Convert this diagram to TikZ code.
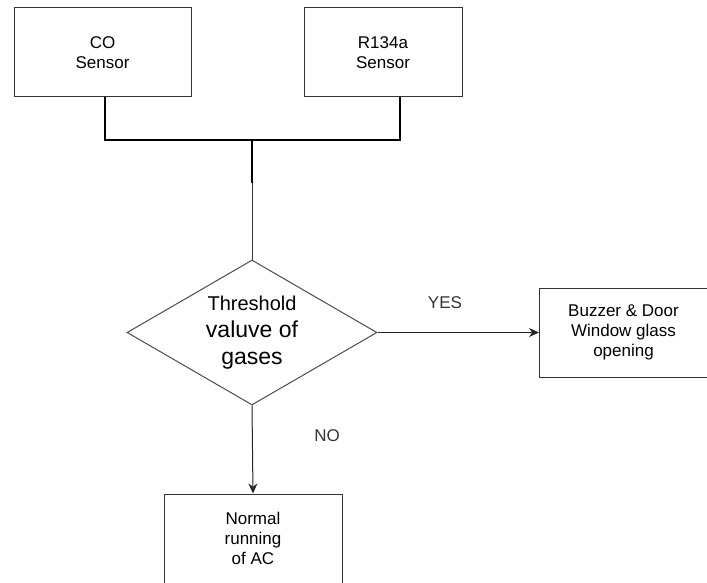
\documentclass[tikz,border=0pt]{standalone}
\usepackage{fontspec}
\setmainfont{Liberation Sans}
\usetikzlibrary{shapes.geometric,arrows.meta}
\tikzset{
    sensorbox/.style={draw=black!80,line width=1pt,minimum width=177pt,minimum height=89pt,align=center,font=\fontsize{17}{20}\selectfont},
    smallbox/.style={draw=black!80,line width=1pt,minimum width=168pt,minimum height=89pt,align=center,font=\fontsize{17}{20}\selectfont},
    decision/.style={draw=black!70,line width=1pt,diamond,minimum width=250pt,minimum height=145pt,inner sep=-25pt,align=center,font=\fontsize{23}{27}\selectfont},
    label/.style={font=\fontsize{17}{20}\selectfont,text=black!80},
    busline/.style={line width=2.6pt,black},
    flowarrow/.style={line width=1pt,black!85,-{Stealth[length=10pt,width=9pt]}}
}
\begin{document}
\begin{tikzpicture}[x=1pt,y=-1pt]
                        \useasboundingbox (0,0) rectangle (707,583);
                        \node[sensorbox] (co) at (102.5,52.5) {CO\\Sensor};
                        \node[sensorbox,minimum width=158pt] (r134) at (383,52.5) {R134a\\Sensor};
                        \node[decision] (gas) at (252,332.5) {{\fontsize{20}{27}\selectfont Threshold}\\valuve of\\gases};
                        \node[smallbox] (alarm) at (623.5,332.5) {Buzzer \& Door\\Window glass\\opening};
                        \node[sensorbox,minimum width=178pt] (ac) at (253,538.5) {Normal\\running\\of AC};

                        % joining the two sensors
                        \coordinate (join) at (252,140);
                        \coordinate (stub) at (252,183);
                        \draw[busline] (co.south -| 105,0) |- (join) -| (r134.south -| 400,0);
                        \draw[busline] (join) -- (stub);
                        \draw[line width=1pt,black!80] (stub) -- (gas.north);

                        \draw[flowarrow] (gas.east) -- (alarm.west);
                        \node[label] (yes) at (445,303) {YES};
                        \draw[flowarrow] (gas.south) -- (ac.north);
                        \node[label] (no) at (327,436) {NO};
                    \end{tikzpicture}
\end{document}
